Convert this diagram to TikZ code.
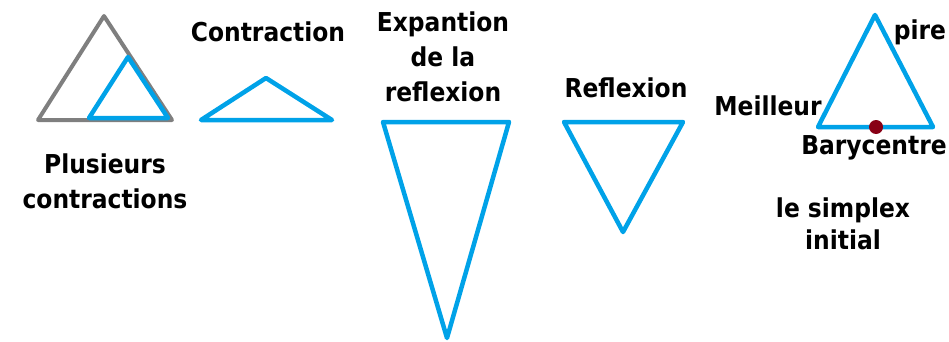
\documentclass[tikz,border=0pt]{standalone}
\usepackage{fontspec}
\setmainfont{DejaVu Sans Condensed}
\definecolor{pblue}{HTML}{00A2E8}
\definecolor{pgray}{HTML}{7F7F7F}
\definecolor{pred}{HTML}{880015}
\begin{document}
\begin{tikzpicture}[x=1pt,y=-1pt,
  tri/.style={draw=pblue,line width=4.5pt,line join=round},
  gtri/.style={draw=pgray,line width=4pt,line join=round},
  lbl/.style={font=\fontsize{26}{35}\selectfont\bfseries,inner sep=0pt,align=center,text=black}]
\useasboundingbox (0,0) rectangle (949,342);
% plusieurs contractions
\draw[gtri] (38,120) -- (104,16) -- (172,120) -- cycle;
\draw[tri] (89,118) -- (128,57) -- (168,118) -- cycle;
% contraction
\draw[tri] (201,120) -- (266,78) -- (332,120) -- cycle;
% expansion
\draw[tri] (383,122) -- (509,122) -- (447,338) -- cycle;
% reflexion
\draw[tri] (564,122) -- (683,122) -- (623,232) -- cycle;
% initial simplex
\draw[tri] (818,127) -- (875,15) -- (933,127) -- cycle;
\fill[pred] (876,127) circle (7);
% labels
\node[lbl] (contr) at (268,32) {Contraction};
\node[lbl] (plus) at (105,181) {Plusieurs\\contractions};
\node[lbl] (exp) at (443,57) {Expantion\\de la\\reflexion};
\node[lbl] (refl) at (626,88) {Reflexion};
\node[lbl] (pire) at (920,32) {pire};
\node[lbl] (meil) at (768,106) {Meilleur};
\node[lbl] (bary) at (874,148) {Barycentre};
\node[lbl,font=\fontsize{26}{32}\selectfont\bfseries] (simp) at (843,224) {le simplex\\initial};
\end{tikzpicture}
\end{document}
